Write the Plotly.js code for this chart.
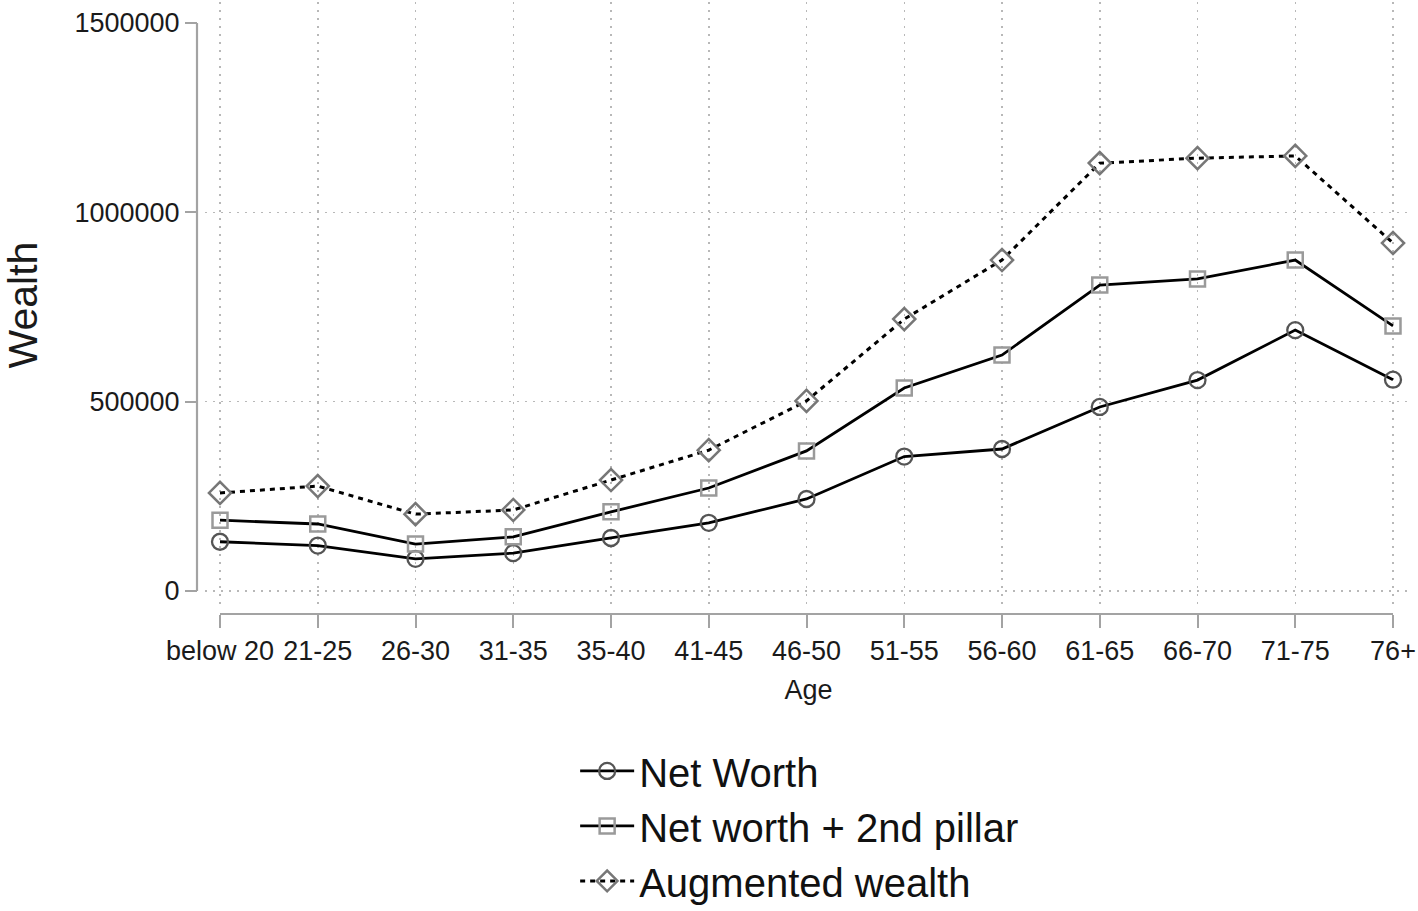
<!DOCTYPE html>
<html>
<head>
<meta charset="utf-8">
<script src="https://cdn.plot.ly/plotly-3.0.1.min.js"></script>
<style>html,body{margin:0;padding:0;background:#fff;}#chart{width:1418px;height:911px;}</style>
</head>
<body>
<div id="chart"></div>
<script>
const categories = ["below 20","21-25","26-30","31-35","35-40","41-45","46-50","51-55","56-60","61-65","66-70","71-75","76+"];
const netWorth = [130000,120000,85000,100000,140000,180000,243000,355000,375000,486000,557000,689000,558000];
const netWorthPillar = [187000,177000,124000,143000,209000,272000,370000,536000,623000,808000,824000,874000,700000];
const augmentedWealth = [259000,277000,203000,214000,293000,372000,502000,718000,874000,1130000,1143000,1149000,919000];
const yTickVals = [0,500000,1000000,1500000];
const yTickText = ["0","500000","1000000","1500000"];
const seriesNames = ["Net Worth","Net worth + 2nd pillar","Augmented wealth"];

const W = 1418, H = 911;
const FONT = "Liberation Sans, Arial, Helvetica, sans-serif";
// pixel geometry
const xLeftPx = 205, xRightPx = 1412, x0Px = 220, x12Px = 1393;
const yTopPx = 2, yBotPx = 608, y0Px = 591, yMaxPx = 23;
const pxPerCat = (x12Px - x0Px) / (categories.length - 1);
const xRange = [(xLeftPx - x0Px) / pxPerCat, (categories.length - 1) + (xRightPx - x12Px) / pxPerCat];
const pxPerVal = (y0Px - yMaxPx) / 1500000;
const yRange = [-(yBotPx - y0Px) / pxPerVal, 1500000 + (yMaxPx - yTopPx) / pxPerVal];
const xAxisLinePx = 614, yAxisLinePx = 197;
const GRID_DASH = "1.5px,6.5px";

const traces = [
  {x: categories, y: netWorth, name: seriesNames[0], type: "scatter", mode: "lines+markers",
   line: {color: "#000000", width: 2.8},
   marker: {symbol: "circle-open", size: 16, color: "#555555", line: {width: 2.3, color: "#555555"}}},
  {x: categories, y: netWorthPillar, name: seriesNames[1], type: "scatter", mode: "lines+markers",
   line: {color: "#000000", width: 2.8},
   marker: {symbol: "square-open", size: 15, color: "#9a9a9a", line: {width: 2.5, color: "#9a9a9a"}}},
  {x: categories, y: augmentedWealth, name: seriesNames[2], type: "scatter", mode: "lines+markers",
   line: {color: "#000000", width: 3, dash: "5px,5px"},
   marker: {symbol: "diamond-open", size: 17, color: "#777777", line: {width: 2.5, color: "#777777"}}},
  {x: categories, y: categories.map(() => null), xaxis: "x2", yaxis: "y2", showlegend: false,
   hoverinfo: "skip", type: "scatter", mode: "markers"}
];

const layout = {
  width: W, height: H,
  margin: {l: 0, r: 0, t: 0, b: 0, autoexpand: false},
  paper_bgcolor: "#ffffff", plot_bgcolor: "#ffffff",
  font: {family: FONT, size: 27, color: "#1a1a1a"},
  showlegend: true,
  legend: {x: 0.4056, xanchor: "left", y: 0.1894, yanchor: "top", font: {size: 40, color: "#111"},
           itemwidth: 54, bgcolor: "rgba(0,0,0,0)", tracegroupgap: 0},
  xaxis: {type: "category", domain: [xLeftPx / W, xRightPx / W], range: xRange,
          showgrid: true, gridcolor: "#b8b8b8", gridwidth: 1.5, griddash: GRID_DASH,
          showticklabels: false, ticks: "", showline: false, zeroline: false, fixedrange: true},
  yaxis: {domain: [(H - yBotPx) / H, (H - yTopPx) / H], range: yRange,
          tickvals: yTickVals.slice(0, 3), showgrid: true, gridcolor: "#b8b8b8", gridwidth: 1.5, griddash: GRID_DASH,
          showticklabels: false, ticks: "", showline: false, zeroline: false, fixedrange: true},
  xaxis2: {type: "category", overlaying: "x", anchor: "free", position: (H - xAxisLinePx) / H, side: "bottom",
           range: xRange, showgrid: false, showline: false, zeroline: false,
           tickvals: categories, ticktext: categories,
           ticks: "outside", ticklen: 13, tickwidth: 2, tickcolor: "#a3a3a3",
           tickfont: {size: 27, color: "#1a1a1a"},
           title: {text: "Age", font: {size: 27, color: "#1a1a1a"}, standoff: 14}},
  yaxis2: {overlaying: "y", anchor: "free", position: yAxisLinePx / W, side: "left",
           range: yRange, showgrid: false, showline: false, zeroline: false,
           tickvals: yTickVals, ticktext: yTickText,
           ticks: "outside", ticklen: 12, tickwidth: 2, tickcolor: "#a3a3a3",
           tickfont: {size: 27, color: "#1a1a1a"},
           title: {text: "Wealth", font: {size: 41, color: "#1a1a1a"}, standoff: 28}},
  shapes: [
    {type: "line", xref: "paper", yref: "y", x0: yAxisLinePx / W, x1: yAxisLinePx / W,
     y0: yTickVals[0], y1: yTickVals[yTickVals.length - 1], line: {color: "#a3a3a3", width: 2.2}},
    {type: "line", xref: "x", yref: "paper", x0: categories[0], x1: categories[categories.length - 1],
     y0: (H - xAxisLinePx) / H, y1: (H - xAxisLinePx) / H, line: {color: "#a3a3a3", width: 2.2}}
  ]
};

Plotly.newPlot("chart", traces, layout, {staticPlot: true, displayModeBar: false});
</script>
</body>
</html>
